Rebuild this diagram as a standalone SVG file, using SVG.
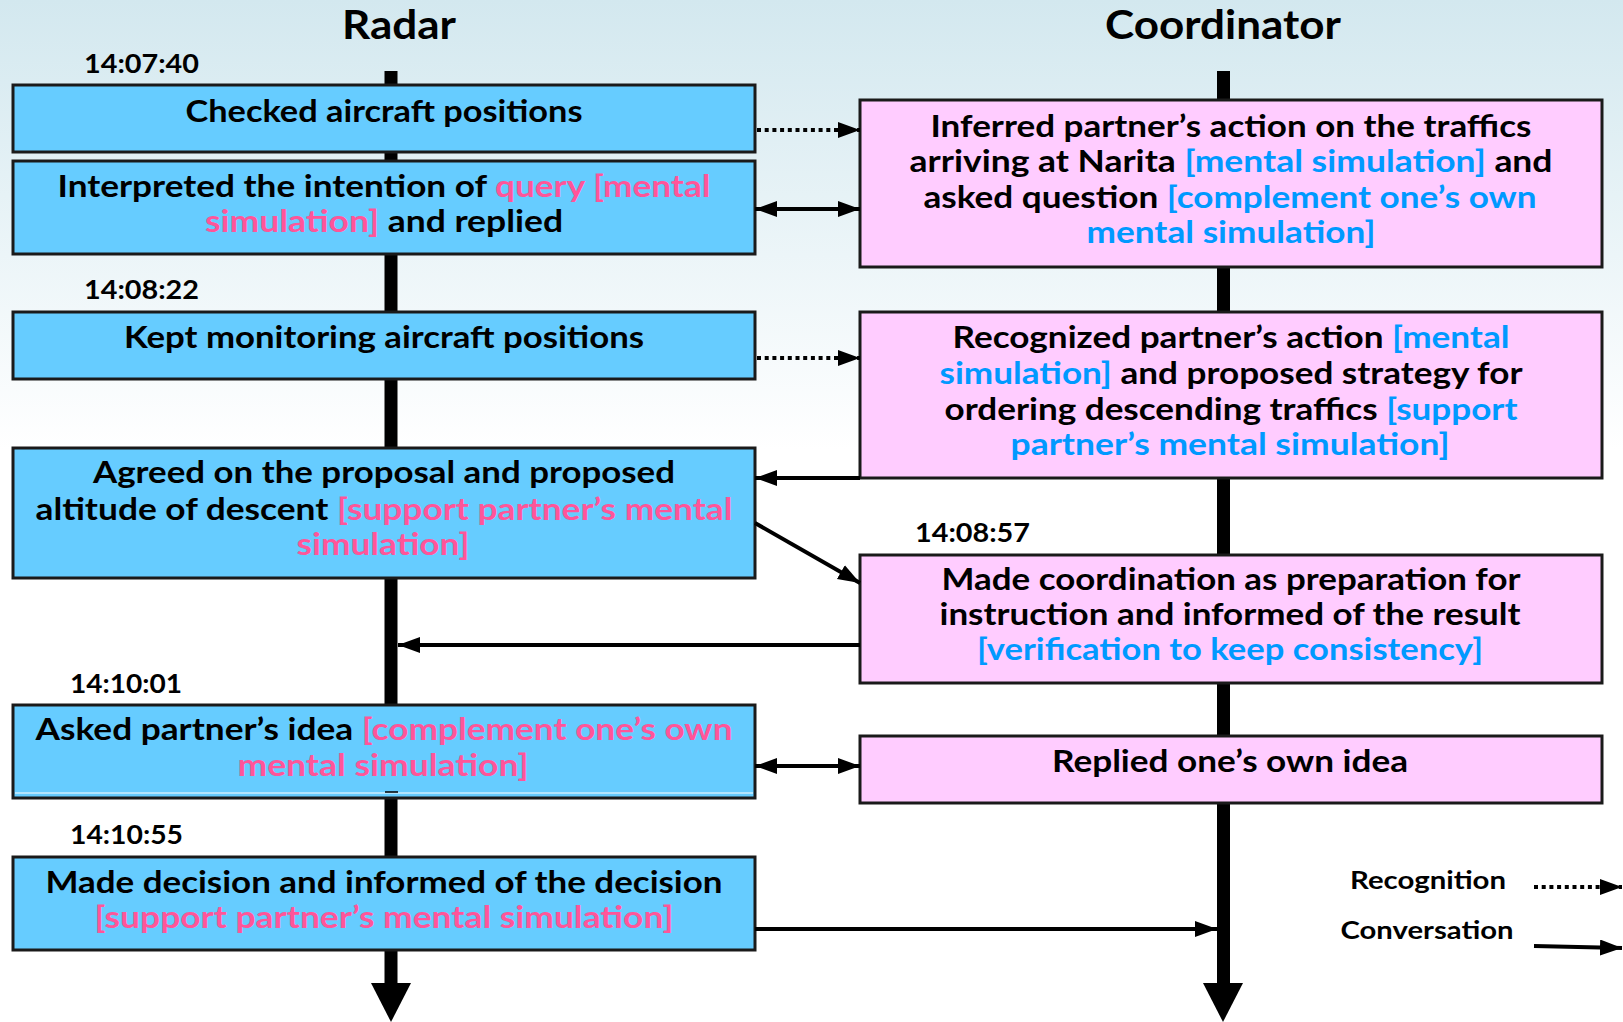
<svg xmlns="http://www.w3.org/2000/svg" width="1623" height="1022" viewBox="0 0 1623 1022">
<style>
text{font-family:Lato,"Open Sans","Liberation Sans",sans-serif;font-weight:700;fill:#000;text-anchor:middle}
.t{font-size:30px}
.ts{font-size:27px;text-anchor:start}
.title{font-size:40px}
.leg{font-size:25px}
.pk{fill:#ff5599}
.bl{fill:#0099ff}
.rb{fill:#66ccff;stroke:#1a1a1a;stroke-width:3}
.cb{fill:#ffccff;stroke:#1a1a1a;stroke-width:3}
.life{stroke:#000;stroke-width:13;fill:none}
.conv{stroke:#000;stroke-width:4;fill:none}
.rec{stroke:#000;stroke-width:4;fill:none;stroke-dasharray:4 3.7}
</style>
<defs>
<linearGradient id="bg" x1="0" y1="0" x2="0" y2="450" gradientUnits="userSpaceOnUse">
<stop offset="0" stop-color="#d3e8ef"/>
<stop offset="1" stop-color="#ffffff"/>
</linearGradient>
<marker id="ah" markerUnits="userSpaceOnUse" markerWidth="24" markerHeight="18" refX="22" refY="8" orient="auto-start-reverse" viewBox="0 0 24 18">
<path d="M0,0 L22,8 L0,16 z" fill="#000"/>
</marker>
</defs>
<rect width="1623" height="1022" fill="url(#bg)"/>

<g id="titles">
<text class="title" x="399" y="39" textLength="114" lengthAdjust="spacingAndGlyphs">Radar</text>
<text class="title" x="1223" y="39" textLength="236" lengthAdjust="spacingAndGlyphs">Coordinator</text>
</g>

<g id="lifelines">
<line class="life" x1="391" y1="71" x2="391" y2="985"/>
<path d="M371,983 L411,983 L391,1022 z" fill="#000"/>
<line class="life" x1="1223.5" y1="71" x2="1223.5" y2="985"/>
<path d="M1203,983 L1243,983 L1223,1022 z" fill="#000"/>
</g>

<g id="timestamps">
<text class="ts" x="84" y="73" textLength="115" lengthAdjust="spacingAndGlyphs">14:07:40</text>
<text class="ts" x="84" y="299" textLength="115" lengthAdjust="spacingAndGlyphs">14:08:22</text>
<text class="ts" x="915" y="542" textLength="115" lengthAdjust="spacingAndGlyphs">14:08:57</text>
<text class="ts" x="70" y="693" textLength="112" lengthAdjust="spacingAndGlyphs">14:10:01</text>
<text class="ts" x="70" y="844" textLength="113" lengthAdjust="spacingAndGlyphs">14:10:55</text>
</g>

<g id="r1">
<rect class="rb" x="13" y="85" width="742" height="67"/>
<text class="t" x="384" y="122" textLength="397" lengthAdjust="spacingAndGlyphs">Checked aircraft positions</text>
</g>
<g id="r2">
<rect class="rb" x="13" y="161" width="742" height="93"/>
<text class="t" x="384" y="197" textLength="653" lengthAdjust="spacingAndGlyphs">Interpreted the intention of <tspan class="pk">query [mental</tspan></text>
<text class="t" x="384" y="232" textLength="358" lengthAdjust="spacingAndGlyphs"><tspan class="pk">simulation]</tspan> and replied</text>
</g>
<g id="r3">
<rect class="rb" x="13" y="312" width="742" height="67"/>
<text class="t" x="384" y="348" textLength="520" lengthAdjust="spacingAndGlyphs">Kept monitoring aircraft positions</text>
</g>
<g id="r4">
<rect class="rb" x="13" y="448" width="742" height="130"/>
<text class="t" x="384" y="483" textLength="582" lengthAdjust="spacingAndGlyphs">Agreed on the proposal and proposed</text>
<text class="t" x="384" y="520" textLength="697" lengthAdjust="spacingAndGlyphs">altitude of descent <tspan class="pk">[support partner’s mental</tspan></text>
<text class="t pk" x="383" y="555" textLength="173" lengthAdjust="spacingAndGlyphs">simulation]</text>
</g>
<g id="r5">
<rect class="rb" x="13" y="705" width="742" height="93"/>
<line x1="15" y1="793" x2="753" y2="793" stroke="#fff" stroke-width="1.2"/>
<line x1="385" y1="792" x2="398" y2="792" stroke="#000" stroke-width="1.5"/>
<text class="t" x="384" y="740" textLength="697" lengthAdjust="spacingAndGlyphs">Asked partner’s idea <tspan class="pk">[complement one’s own</tspan></text>
<text class="t pk" x="383" y="776" textLength="291" lengthAdjust="spacingAndGlyphs">mental simulation]</text>
</g>
<g id="r6">
<rect class="rb" x="13" y="857" width="742" height="93"/>
<text class="t" x="384" y="893" textLength="677" lengthAdjust="spacingAndGlyphs">Made decision and informed of the decision</text>
<text class="t pk" x="384" y="928" textLength="579" lengthAdjust="spacingAndGlyphs">[support partner’s mental simulation]</text>
</g>

<g id="c1">
<rect class="cb" x="860" y="100" width="742" height="167"/>
<text class="t" x="1231" y="137" textLength="601" lengthAdjust="spacingAndGlyphs">Inferred partner’s action on the traffics</text>
<text class="t" x="1231" y="172" textLength="643" lengthAdjust="spacingAndGlyphs">arriving at Narita <tspan class="bl">[mental simulation]</tspan> and</text>
<text class="t" x="1230" y="208" textLength="613" lengthAdjust="spacingAndGlyphs">asked question <tspan class="bl">[complement one’s own</tspan></text>
<text class="t bl" x="1231" y="243" textLength="289" lengthAdjust="spacingAndGlyphs">mental simulation]</text>
</g>
<g id="c2">
<rect class="cb" x="860" y="312" width="742" height="166"/>
<text class="t" x="1231" y="348" textLength="557" lengthAdjust="spacingAndGlyphs">Recognized partner’s action <tspan class="bl">[mental</tspan></text>
<text class="t" x="1231" y="384" textLength="583" lengthAdjust="spacingAndGlyphs"><tspan class="bl">simulation]</tspan> and proposed strategy for</text>
<text class="t" x="1231" y="420" textLength="573" lengthAdjust="spacingAndGlyphs">ordering descending traffics <tspan class="bl">[support</tspan></text>
<text class="t bl" x="1230" y="455" textLength="439" lengthAdjust="spacingAndGlyphs">partner’s mental simulation]</text>
</g>
<g id="c3">
<rect class="cb" x="860" y="555" width="742" height="128"/>
<text class="t" x="1231" y="590" textLength="579" lengthAdjust="spacingAndGlyphs">Made coordination as preparation for</text>
<text class="t" x="1230" y="625" textLength="581" lengthAdjust="spacingAndGlyphs">instruction and informed of the result</text>
<text class="t bl" x="1230" y="660" textLength="506" lengthAdjust="spacingAndGlyphs">[verification to keep consistency]</text>
</g>
<g id="c4">
<rect class="cb" x="860" y="736" width="742" height="67"/>
<text class="t" x="1230" y="772" textLength="356" lengthAdjust="spacingAndGlyphs">Replied one’s own idea</text>
</g>

<g id="connectors">
<line class="rec" x1="757" y1="130" x2="860" y2="130" marker-end="url(#ah)"/>
<line class="conv" x1="755" y1="209" x2="860" y2="209" marker-start="url(#ah)" marker-end="url(#ah)"/>
<line class="rec" x1="757" y1="358" x2="860" y2="358" marker-end="url(#ah)"/>
<line class="conv" x1="860" y1="478" x2="755" y2="478" marker-end="url(#ah)"/>
<line class="conv" x1="755" y1="523" x2="860" y2="583" marker-end="url(#ah)"/>
<line class="conv" x1="860" y1="645" x2="398" y2="645" marker-end="url(#ah)"/>
<line class="conv" x1="755" y1="766" x2="860" y2="766" marker-start="url(#ah)" marker-end="url(#ah)"/>
<line class="conv" x1="755" y1="929" x2="1217" y2="929" marker-end="url(#ah)"/>
</g>

<g id="legend">
<text class="leg" x="1428" y="889" textLength="156" lengthAdjust="spacingAndGlyphs">Recognition</text>
<text class="leg" x="1427" y="939" textLength="173" lengthAdjust="spacingAndGlyphs">Conversation</text>
<line class="rec" x1="1534" y1="887" x2="1622" y2="887" marker-end="url(#ah)"/>
<line class="conv" x1="1534" y1="946" x2="1622" y2="948" marker-end="url(#ah)"/>
</g>
</svg>
